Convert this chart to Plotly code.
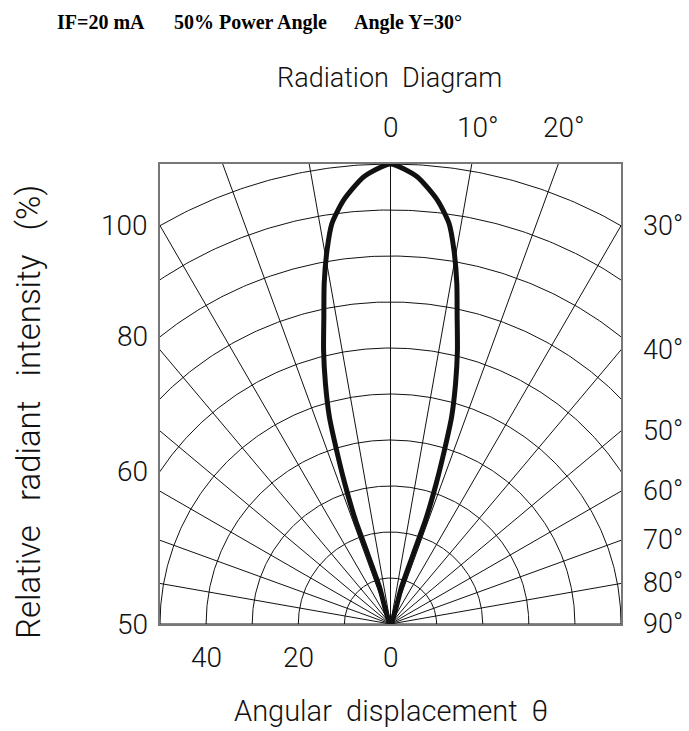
import numpy as np
import plotly.graph_objects as go

# ---- data ----
# right half of the radiation lobe: angle from axis (deg) vs relative intensity (%)
lobe_angle_deg = [0, 3.4, 6.3, 8.3, 9.6, 11.0, 12.2, 13.7, 15.1, 16.4, 17.2, 18.0, 18.6, 18.0, 16.5, 15.0]
lobe_intensity = [100, 97.4, 92.7, 88.0, 82.5, 75.4, 68.4, 61.3, 54.2, 47.0, 39.6, 32.0, 24.0, 16.0, 8.5, 0]

radius_ticks = [10, 20, 30, 40, 50, 60, 70, 80, 90, 100]          # concentric arcs (%)
angle_ticks = [-90, -80, -70, -60, -50, -40, -30, -20, -10, 0, 10, 20, 30, 40, 50, 60, 70, 80, 90]

left_labels = ["100", "80", "60", "50"]          # radius labels on left edge
left_label_r = [100, 80, 60, 50]
bottom_labels = ["40", "20", "0"]
bottom_label_r = [40, 20, 0]
top_labels = ["0", "10°", "20°"]
top_label_ang = [0, 10, 20]
right_labels = ["30°", "40°", "50°", "60°", "70°", "80°", "90°"]
right_label_ang = [30, 40, 50, 60, 70, 80, 90]

header_texts = ["IF=20 mA", "50% Power Angle", "Angle Y=30°"]

XMAX, YMAX = 50, 100   # box extent in % units

# ---- build grid ----
gx, gy = [], []
t = np.radians(np.linspace(-90, 90, 361))
for r in radius_ticks:
    gx += list(r * np.sin(t)) + [None]
    gy += list(r * np.cos(t)) + [None]
for a in angle_ticks:
    ar = np.radians(a)
    gx += [0, 130 * np.sin(ar), None]
    gy += [0, 130 * np.cos(ar), None]

# lobe (mirror right half to left)
ang = np.radians(np.array(lobe_angle_deg))
I = np.array(lobe_intensity)
xr = I * np.sin(ang)
yr = I * np.cos(ang)
lx = list(-xr[::-1]) + list(xr[1:])
ly = list(yr[::-1]) + list(yr[1:])

fig = go.Figure()
fig.add_trace(go.Scatter(x=gx, y=gy, mode="lines", line=dict(color="#111", width=1),
                         hoverinfo="skip", showlegend=False))
fig.add_trace(go.Scatter(x=lx, y=ly, mode="lines", line=dict(color="#111", width=5, shape="spline", smoothing=0.6),
                         showlegend=False))

FAM = "Roboto, DejaVu Sans, sans-serif"
light = dict(family=FAM, size=28, color="#111", weight=300)
light_r = dict(family=FAM, size=27, color="#111", weight=300)
mid = dict(family=FAM, size=27, color="#111", weight=300)
big = dict(family=FAM, size=29, color="#111", weight=300)
ann = []
for txt, r in zip(left_labels, left_label_r):
    yv = np.sqrt(max(r**2 - XMAX**2, 0))
    ann.append(dict(x=-XMAX, y=yv, text=txt, showarrow=False, xanchor="right", xshift=-10, font=light))
for txt, r in zip(bottom_labels, bottom_label_r):
    ann.append(dict(x=-r, y=0, text=txt, showarrow=False, xanchor="center", yanchor="middle", yshift=-33, font=light))
for txt, a in zip(top_labels, top_label_ang):
    ann.append(dict(x=YMAX * np.tan(np.radians(a)), y=YMAX, text=txt, showarrow=False, xanchor="center",
                    yanchor="middle", yshift=37, xshift=(6 if a else 0), font=light))
for txt, a in zip(right_labels, right_label_ang):
    yv = XMAX / np.tan(np.radians(a)) if a < 90 else 0
    ann.append(dict(x=XMAX, y=yv, text=txt, showarrow=False, xanchor="left", xshift=20, font=light_r))

ann.append(dict(xref="paper", yref="paper", x=0.497, y=1, yshift=86, text="Radiation  Diagram",
                showarrow=False, xanchor="center", yanchor="middle", font=mid))
ann.append(dict(xref="paper", yref="paper", x=0.5, y=0, yshift=-87, text="Angular  displacement  θ",
                showarrow=False, xanchor="center", yanchor="middle", font=big))
ann.append(dict(xref="paper", yref="paper", x=0, xshift=-132, y=0.5, yshift=-18,
                text="Relative   radiant   intensity   (%)",
                showarrow=False, textangle=-90, xanchor="center", yanchor="middle",
                font=dict(family=FAM, size=33, color="#111", weight=300)))

bold = dict(family="Liberation Serif, Times New Roman, serif", size=20, color="#000", weight="bold")
for txt, px in zip(header_texts, [101, 250, 408]):
    ann.append(dict(xref="paper", yref="paper", x=(px - 160) / 461, y=1, yshift=142,
                    text="<b>%s</b>" % txt, showarrow=False, xanchor="center", yanchor="middle", font=bold))

fig.update_layout(
    width=689, height=731,
    margin=dict(l=160, r=68, t=164, b=107),
    paper_bgcolor="white", plot_bgcolor="white",
    annotations=ann,
    xaxis=dict(range=[-XMAX, XMAX], showgrid=False, zeroline=False, showticklabels=False,
               showline=True, mirror=True, linecolor="#777", linewidth=2, fixedrange=True),
    yaxis=dict(range=[0, YMAX], showgrid=False, zeroline=False, showticklabels=False,
               showline=True, mirror=True, linecolor="#777", linewidth=2, fixedrange=True),
)
fig.write_html("out.html", config={"displayModeBar": False},
               post_script="document.body.style.margin='0px';document.body.style.overflow='hidden';")
